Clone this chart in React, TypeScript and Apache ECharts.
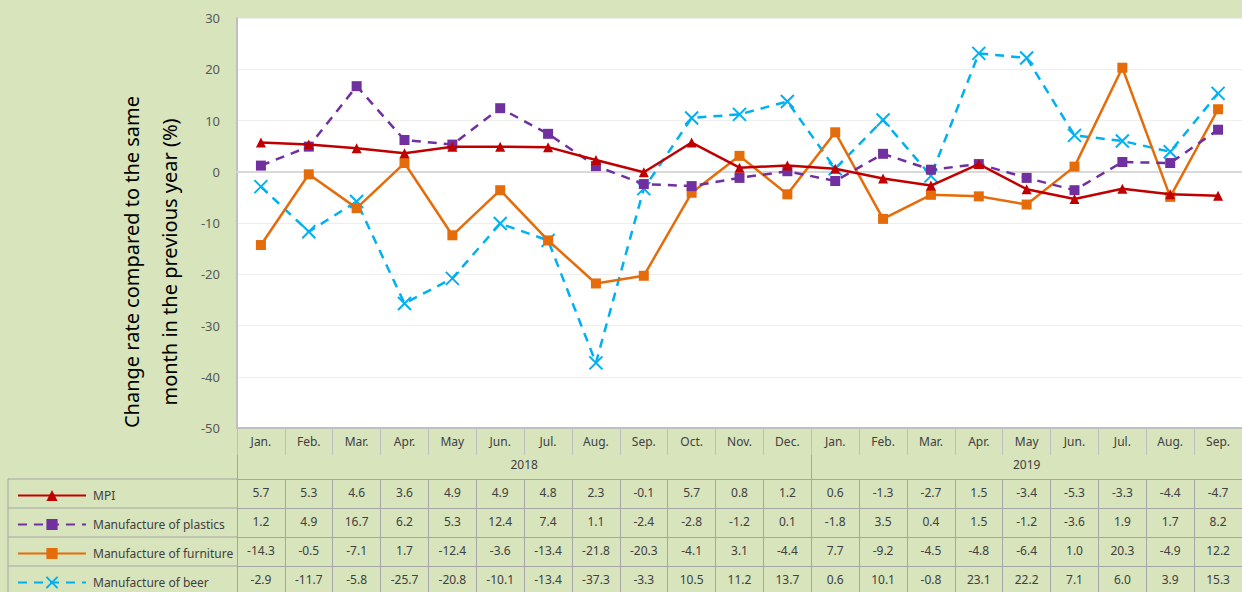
import React, { useEffect, useRef } from "react";
import * as echarts from "echarts";

// ---- data ----
const monthLabels = ["Jan.", "Feb.", "Mar.", "Apr.", "May", "Jun.", "Jul.", "Aug.", "Sep.", "Oct.", "Nov.", "Dec.", "Jan.", "Feb.", "Mar.", "Apr.", "May", "Jun.", "Jul.", "Aug.", "Sep."];
const monthYears = ["2018", "2018", "2018", "2018", "2018", "2018", "2018", "2018", "2018", "2018", "2018", "2018", "2019", "2019", "2019", "2019", "2019", "2019", "2019", "2019", "2019"];
const seriesNames = ["MPI", "Manufacture of plastics", "Manufacture of furniture", "Manufacture of beer"];
const mpi = [5.7, 5.3, 4.6, 3.6, 4.9, 4.9, 4.8, 2.3, -0.1, 5.7, 0.8, 1.2, 0.6, -1.3, -2.7, 1.5, -3.4, -5.3, -3.3, -4.4, -4.7];
const plastics = [1.2, 4.9, 16.7, 6.2, 5.3, 12.4, 7.4, 1.1, -2.4, -2.8, -1.2, 0.1, -1.8, 3.5, 0.4, 1.5, -1.2, -3.6, 1.9, 1.7, 8.2];
const furniture = [-14.3, -0.5, -7.1, 1.7, -12.4, -3.6, -13.4, -21.8, -20.3, -4.1, 3.1, -4.4, 7.7, -9.2, -4.5, -4.8, -6.4, 1.0, 20.3, -4.9, 12.2];
const beer = [-2.9, -11.7, -5.8, -25.7, -20.8, -10.1, -13.4, -37.3, -3.3, 10.5, 11.2, 13.7, 0.6, 10.1, -0.8, 23.1, 22.2, 7.1, 6.0, 3.9, 15.3];
const yMin = -50;
const yMax = 30;
const yInterval = 10;
const yTitle = "Change rate compared to the same\nmonth in the previous year (%)";

// ---- derived ----
const keys = monthLabels.map((m, i) => `${m} ${monthYears[i]}`);
const yearList: string[] = [];
monthYears.forEach((y) => { if (!yearList.includes(y)) yearList.push(y); });
const yearStarts = yearList.map((y) => monthYears.indexOf(y));
const yearCounts = yearList.map((y) => monthYears.filter((v) => v === y).length);
const yearCenters = yearStarts.map((s, i) => s + yearCounts[i] / 2);
const yearBounds = [...yearStarts, monthLabels.length];

const FONT = "'Noto Sans', 'DejaVu Sans', sans-serif";
const TABLE_LINE = "#a6a6a6";
const TEXT = "#404040";
const BG = "#d8e4bc";

const colors = ["#c00000", "#7030a0", "#e46c0a", "#00b0f0"];

const PLOT_BOTTOM = 428;
const ROW_H = 29;
const ROW0 = 51; // offset of first data row from plot bottom

function rowAxis(vals: number[], offset: number) {
  return {
    type: "category",
    data: keys,
    gridIndex: 0,
    position: "bottom",
    offset,
    axisLine: { show: true, onZero: false, lineStyle: { color: TABLE_LINE, width: 1 } },
    axisTick: { show: true, interval: 0, length: ROW_H, lineStyle: { color: TABLE_LINE, width: 1 } },
    axisLabel: {
      interval: 0,
      margin: 7,
      color: TEXT,
      fontSize: 12,
      fontFamily: FONT,
      formatter: (_v: string, i: number) => vals[i].toFixed(1),
    },
    splitLine: { show: false },
  };
}

export default function App() {
  const ref = useRef<HTMLDivElement>(null);
  useEffect(() => {
    if (!ref.current) return;
    const chart = echarts.init(ref.current, null, { renderer: "svg" });
    const tableRows = [mpi, plastics, furniture, beer];
    const option: any = {
      animation: false,
      backgroundColor: BG,
      grid: { left: 237, right: 0, top: 18, bottom: 592 - PLOT_BOTTOM, show: true, backgroundColor: "#ffffff", borderWidth: 0 },
      legend: seriesNames.map((name, i) => ({
        orient: "horizontal",
        left: 17,
        top: PLOT_BOTTOM + ROW0 + i * ROW_H + 8,
        padding: 0,
        itemWidth: 68,
        itemHeight: 14,
        itemGap: 0,
        selectedMode: false,
        data: [name],
        textStyle: { fontSize: 12, color: TEXT, fontFamily: FONT, lineHeight: 14, padding: [0, 0, 3, 2] },
      })),
      xAxis: [
        {
          type: "category",
          data: keys,
          position: "bottom",
          axisLine: { show: true, onZero: false, lineStyle: { color: "#bfbfbf", width: 2 } },
          axisTick: { show: true, interval: 0, length: 27, lineStyle: { color: "#bfbfbf", width: 1 } },
          axisLabel: {
            interval: 0,
            margin: 7,
            color: TEXT,
            fontSize: 12,
            fontFamily: FONT,
            formatter: (_v: string, i: number) => monthLabels[i],
          },
          splitLine: { show: false },
        },
        {
          type: "category",
          data: keys,
          position: "bottom",
          axisLine: { show: true, onZero: true, onZeroAxisIndex: 0, lineStyle: { color: "#d9d9d9", width: 2 } },
          axisTick: { show: false },
          axisLabel: { show: false },
          splitLine: { show: false },
          z: 1,
        },
        {
          type: "value",
          min: 0,
          max: monthLabels.length,
          position: "bottom",
          offset: 27,
          axisLine: { show: false, onZero: false },
          splitLine: { show: false },
          axisTick: { show: true, customValues: yearBounds, length: 24, lineStyle: { color: TABLE_LINE, width: 1 } },
          axisLabel: {
            customValues: yearCenters,
            margin: 3,
            color: TEXT,
            fontSize: 12,
            fontFamily: FONT,
            formatter: (v: number) => {
              const idx = yearCenters.findIndex((c) => Math.abs(c - v) < 1e-6);
              return idx >= 0 ? yearList[idx] : "";
            },
          },
        },
        ...tableRows.map((vals, i) => rowAxis(vals, ROW0 + i * ROW_H)),
      ],
      yAxis: {
        type: "value",
        min: yMin,
        max: yMax,
        interval: yInterval,
        axisLine: { show: true, lineStyle: { color: "#bfbfbf", width: 2 } },
        axisTick: { show: false },
        axisLabel: { color: "#595959", fontSize: 13, margin: 17, fontFamily: FONT },
        splitLine: { show: true, lineStyle: { color: "#eeeeee", width: 1 } },
      },
      graphic: [
        {
          type: "text",
          x: 150,
          y: 262,
          rotation: Math.PI / 2,
          style: {
            text: yTitle,
            fontSize: 20,
            lineHeight: 38,
            fontFamily: FONT,
            fill: "#000000",
            align: "center",
            verticalAlign: "middle",
          },
        },
        { type: "line", shape: { x1: 8, y1: PLOT_BOTTOM + ROW0, x2: 8, y2: 592 }, style: { stroke: TABLE_LINE, lineWidth: 1 } },
        ...[0, 1, 2, 3].map((i) => ({
          type: "line",
          shape: { x1: 8, y1: PLOT_BOTTOM + ROW0 + i * ROW_H, x2: 237, y2: PLOT_BOTTOM + ROW0 + i * ROW_H },
          style: { stroke: TABLE_LINE, lineWidth: 1 },
        })),
      ],
      series: [
        {
          name: seriesNames[0],
          type: "line",
          data: mpi,
          z: 6,
          symbol: "triangle",
          symbolSize: 10,
          lineStyle: { color: colors[0], width: 2.5 },
          itemStyle: { color: colors[0] },
        },
        {
          name: seriesNames[1],
          type: "line",
          data: plastics,
          z: 5,
          symbol: "rect",
          symbolSize: 10,
          lineStyle: { color: colors[1], width: 2.5, type: [9, 7] },
          itemStyle: { color: colors[1] },
        },
        {
          name: seriesNames[2],
          type: "line",
          data: furniture,
          z: 4,
          symbol: "rect",
          symbolSize: 10,
          lineStyle: { color: colors[2], width: 2.5 },
          itemStyle: { color: colors[2] },
        },
        {
          name: seriesNames[3],
          type: "line",
          data: beer,
          z: 3,
          symbol: "path://M0 0L10 10M10 0L0 10",
          symbolSize: 13,
          lineStyle: { color: colors[3], width: 2.5, type: [9, 7] },
          itemStyle: { color: colors[3], borderColor: colors[3], borderWidth: 2 },
        },
      ],
    };
    chart.setOption(option);
    return () => chart.dispose();
  }, []);
  return (
    <div
      ref={ref}
      style={{ position: "fixed", left: 0, top: 0, width: 1242, height: 592 }}
    />
  );
}
